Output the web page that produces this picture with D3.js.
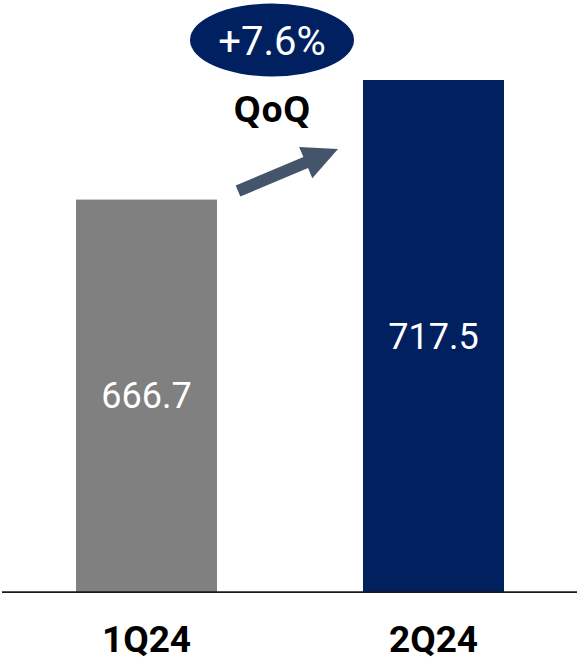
<!DOCTYPE html>
<html>
<head>
<meta charset="utf-8">
<script src="https://cdn.jsdelivr.net/npm/d3@7/dist/d3.min.js"></script>
<style>
  html, body { margin: 0; padding: 0; background: #ffffff; }
  svg { display: block; }
</style>
</head>
<body>
<svg id="chart" width="577" height="663"></svg>
<script>
// Quarterly values
const categories = ["1Q24", "2Q24"];
const values = [666.7, 717.5];
const barColors = ["#808080", "#002060"];
const changeLabel = "+7.6%";
const changeCaption = "QoQ";

const W = 577, H = 663;
const baseY = 592;

const svg = d3.select("#chart");

const x = d3.scaleBand()
  .domain(categories)
  .range([4.25, 575.75])
  .paddingInner(146 / 287)
  .paddingOuter(0.25);

// Truncated value axis (starts at 500)
const y = d3.scaleLinear()
  .domain([500, 717.5])
  .range([baseY, 80]);

const data = categories.map((c, i) => ({ cat: c, value: values[i], color: barColors[i] }));

// Bars
svg.append("g").selectAll("rect")
  .data(data)
  .join("rect")
  .attr("x", d => x(d.cat))
  .attr("y", d => y(d.value))
  .attr("width", x.bandwidth())
  .attr("height", d => baseY - y(d.value))
  .attr("fill", d => d.color);

// Value labels centred in each bar
svg.append("g").selectAll("text")
  .data(data)
  .join("text")
  .attr("x", d => x(d.cat) + x.bandwidth() / 2)
  .attr("y", d => (y(d.value) + baseY) / 2)
  .attr("dy", "0.35em")
  .attr("text-anchor", "middle")
  .attr("fill", "#ffffff")
  .style("font-family", "Roboto, sans-serif")
  .style("font-size", "36px")
  .text(d => d3.format(".1f")(d.value));

// Baseline
svg.append("line")
  .attr("x1", 2).attr("x2", W)
  .attr("y1", baseY).attr("y2", baseY)
  .attr("stroke", "#1a1a1a")
  .attr("stroke-width", 1.75);

// Category axis labels
const xAxis = d3.axisBottom(x).tickSize(0).tickPadding(0);
const gx = svg.append("g")
  .attr("transform", `translate(0,${baseY})`)
  .call(xAxis);
gx.select(".domain").remove();
gx.selectAll("text")
  .attr("y", 60)
  .attr("dy", 0)
  .attr("fill", "#000000")
  .style("font-family", "Roboto, sans-serif")
  .style("font-weight", "700")
  .style("font-size", "37px");

// Growth badge
const badge = svg.append("g").attr("transform", "translate(272,40)");
badge.append("ellipse")
  .attr("rx", 82).attr("ry", 36.5)
  .attr("fill", "#002060");
badge.append("text")
  .attr("y", 15)
  .attr("text-anchor", "middle")
  .attr("fill", "#ffffff")
  .style("font-family", "Roboto, sans-serif")
  .style("font-size", "40px")
  .text(changeLabel);

svg.append("text")
  .attr("x", 272).attr("y", 122)
  .attr("text-anchor", "middle")
  .attr("fill", "#000000")
  .style("font-family", "'Open Sans', sans-serif")
  .style("font-weight", "700")
  .style("font-size", "35px")
  .text(changeCaption);

// Trend arrow, drawn along +x then rotated into place
const tail = [238, 191], tip = [338, 149];
const len = Math.hypot(tip[0] - tail[0], tip[1] - tail[1]);
const ang = Math.atan2(tip[1] - tail[1], tip[0] - tail[0]) * 180 / Math.PI;
const shaftHalf = 6, headHalf = 17, headLen = 35;
const arrowPts = [
  [0, -shaftHalf], [len - headLen, -shaftHalf], [len - headLen, -headHalf],
  [len, 0],
  [len - headLen, headHalf], [len - headLen, shaftHalf], [0, shaftHalf]
];
svg.append("path")
  .attr("transform", `translate(${tail[0]},${tail[1]}) rotate(${ang})`)
  .attr("d", d3.line()(arrowPts) + "Z")
  .attr("fill", "#44546a");
</script>
</body>
</html>
